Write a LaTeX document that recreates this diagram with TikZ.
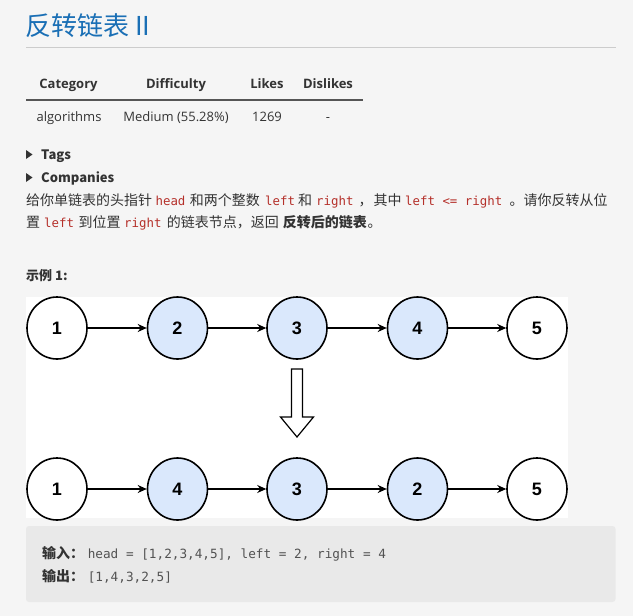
\documentclass[tikz,border=0pt]{standalone}
\usepackage{fontspec}
\setmainfont{Noto Sans CJK SC}
\newfontfamily\latf{Open Sans}
\newfontfamily\monof{DejaVu Sans Mono}
\newfontfamily\arialf{Liberation Sans}
\usetikzlibrary{arrows.meta,shapes.geometric}
\definecolor{pagebg}{HTML}{F5F5F5}
\definecolor{titleblue}{HTML}{1A6FB5}
\definecolor{codered}{HTML}{B5302A}
\definecolor{txt}{HTML}{333333}
\definecolor{nodefill}{HTML}{DAE8FC}
\definecolor{codebg}{HTML}{E9E9E9}
\definecolor{rulegray}{HTML}{CCCCCC}
\definecolor{tabrule}{HTML}{555555}
\tikzset{
  txtnode/.style={anchor=base west, inner sep=0pt, text=txt, font=\fontsize{14}{16}\selectfont},
  codenode/.style={anchor=base west, inner sep=0pt, text=codered, font=\monof\fontsize{12.4}{15}\selectfont},
  thead/.style={anchor=base, inner sep=0pt, text=txt, font=\latf\bfseries\fontsize{13}{15}\selectfont},
  tcell/.style={anchor=base, inner sep=0pt, text=txt, font=\latf\fontsize{13}{15}\selectfont},
  boldlbl/.style={anchor=base west, inner sep=0pt, text=txt, font=\bfseries\fontsize{13}{15}\selectfont},
  plainnode/.style={ellipse, draw=black, line width=1.6pt, fill=white, minimum width=60pt, minimum height=62pt, inner sep=0pt, font=\arialf\bfseries\fontsize{18}{20}\selectfont},
  bluenode/.style={plainnode, fill=nodefill},
  link/.style={draw=black, line width=1.4pt, -{Stealth[length=9pt,width=8pt]}},
  mono/.style={anchor=base west, inner sep=0pt, text=txt!85, font=\monof\fontsize{12.7}{15}\selectfont},
}
\begin{document}
\begin{tikzpicture}[x=1pt,y=-1pt]
\fill[pagebg] (0,0) rectangle (633,616);
\useasboundingbox (0,0) rectangle (633,616);
% title
\node[anchor=base west, inner sep=0pt, text=titleblue, font=\fontsize{26}{30}\selectfont] (title) at (25,35) {反转链表 II};
\draw[rulegray, line width=1pt] (26,47.5) -- (615.5,47.5);
% table
\node[thead] (h1) at (68.5,88.5) {Category};
\node[thead] (h2) at (176,88.5) {Difficulty};
\node[thead] (h3) at (267,88.5) {Likes};
\node[thead] (h4) at (328,88.5) {Dislikes};
\draw[tabrule, line width=1.2pt] (26,100) -- (362.5,100);
\node[tcell] (c1) at (69,121.5) {algorithms};
\node[tcell] (c2) at (176,121.5) {Medium (55.28\%)};
\node[tcell] (c3) at (267,121.5) {1269};
\node[tcell] (c4) at (328,121.5) {-};
% tags / companies
\fill[txt] (26,150) -- (32.5,154.5) -- (26,159) -- cycle;
\node[boldlbl] (tags) at (41,159) {Tags};
\fill[txt] (26,173) -- (32.5,177.5) -- (26,182) -- cycle;
\node[boldlbl] (comp) at (41,182) {Companies};
% paragraph line 1
\node[txtnode] (p1) at (26,205) {给你单链表的头指针};
\node[codenode] (p2) at (155.4,205) {head};
\node[txtnode] (p3) at (189.7,205) {和两个整数};
\node[codenode] (p4) at (265,205) {left};
\node[txtnode] (p5) at (298,205) {和};
\node[codenode] (p6) at (316,205) {right};
\node[txtnode] (p7) at (358.5,205) {，};
\node[txtnode] (p8) at (373.4,205) {其中};
\node[codenode] (p9) at (405,205) {left <= right};
\node[txtnode] (p10) at (509.5,205) {。请你反转从位};
% paragraph line 2
\node[txtnode] (q1) at (26,227) {置};
\node[codenode] (q2) at (44,227) {left};
\node[txtnode] (q3) at (78.3,227) {到位置};
\node[codenode] (q4) at (124,227) {right};
\node[txtnode] (q5) at (166.7,227) {的链表节点，返回};
\node[txtnode, font=\bfseries\fontsize{14}{16}\selectfont] (q6) at (282.6,227) {反转后的链表};
\node[txtnode] (q7) at (367.5,227) {。};
% example label
\node[boldlbl] (ex) at (26,280) {示例 1:};
% image
\fill[white] (26,297) rectangle (568,518);
\node[plainnode] (a1) at (57,328) {1};
\node[bluenode] (a2) at (177.5,328) {2};
\node[bluenode] (a3) at (297,328) {3};
\node[bluenode] (a4) at (417.5,328) {4};
\node[plainnode] (a5) at (537,328) {5};
\draw[link] (a1) -- (a2);
\draw[link] (a2) -- (a3);
\draw[link] (a3) -- (a4);
\draw[link] (a4) -- (a5);
\draw[black, line width=1.2pt, fill=white, line join=miter] (291.5,369) -- (302.5,369) -- (302.5,417) -- (313.5,417) -- (297,437) -- (280.5,417) -- (291.5,417) -- cycle;
\node[plainnode] (b1) at (57,489) {1};
\node[bluenode] (b2) at (177.5,489) {4};
\node[bluenode] (b3) at (297,489) {3};
\node[bluenode] (b4) at (417.5,489) {2};
\node[plainnode] (b5) at (537,489) {5};
\draw[link] (b1) -- (b2);
\draw[link] (b2) -- (b3);
\draw[link] (b3) -- (b4);
\draw[link] (b4) -- (b5);
% code box
\fill[codebg, rounded corners=3pt] (26,526) rectangle (615.5,602);
\node[txtnode, font=\bfseries\fontsize{14}{16}\selectfont] (in) at (42,558) {输入：};
\node[mono] (inv) at (87.6,558) {head = [1,2,3,4,5], left = 2, right = 4};
\node[txtnode, font=\bfseries\fontsize{14}{16}\selectfont] (out) at (42,581) {输出：};
\node[mono] (outv) at (87.6,581) {[1,4,3,2,5]};
\end{tikzpicture}
\end{document}
